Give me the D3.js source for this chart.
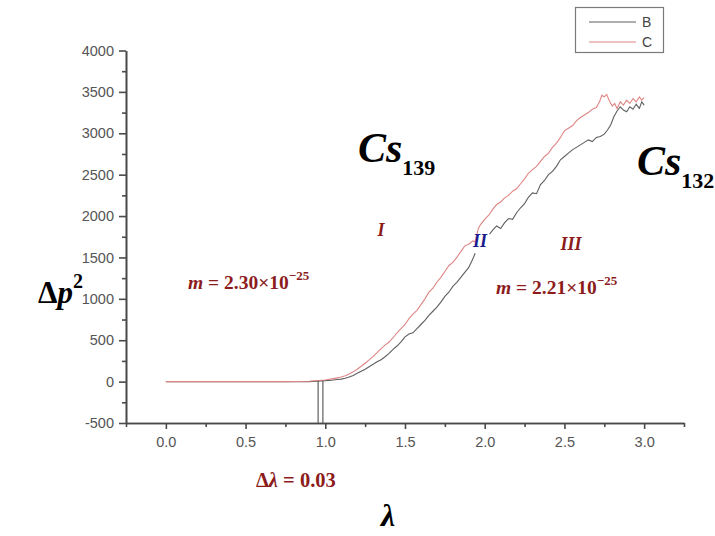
<!DOCTYPE html>
<html>
<head>
<meta charset="utf-8">
<script src="https://cdn.jsdelivr.net/npm/d3@7/dist/d3.min.js"></script>
<style>
  html, body { margin: 0; padding: 0; background: #fff; }
  svg { display: block; }
</style>
</head>
<body>
<svg id="chart" width="715" height="536"></svg>
<script>
// λ sample positions and Δp² values for the two runs
const lambdaB = [0, 0.25, 0.5, 0.75, 0.9, 1.0, 1.025, 1.05, 1.075, 1.1, 1.125, 1.15, 1.175, 1.2, 1.225, 1.25, 1.275, 1.3, 1.325, 1.35, 1.375, 1.4, 1.425, 1.45, 1.475, 1.5, 1.525, 1.55, 1.575, 1.6, 1.625, 1.65, 1.675, 1.7, 1.725, 1.75, 1.775, 1.8, 1.825, 1.85, 1.875, 1.9, 1.925, 1.94, 1.99, 2.03, 2.05, 2.075, 2.1, 2.125, 2.15, 2.175, 2.2, 2.225, 2.25, 2.275, 2.3, 2.325, 2.35, 2.375, 2.4, 2.425, 2.45, 2.475, 2.5, 2.525, 2.55, 2.575, 2.6, 2.625, 2.65, 2.675, 2.7, 2.725, 2.75, 2.77, 2.79, 2.81, 2.83, 2.85, 2.87, 2.89, 2.91, 2.93, 2.95, 2.97, 2.985, 3.0];
const seriesB = [0, 0, 0, 0, 0, 12, 15, 20, 25, 30, 40, 55, 75, 100, 125, 150, 180, 210, 240, 265, 300, 340, 390, 430, 480, 540, 575, 590, 640, 690, 740, 800, 850, 900, 960, 1030, 1080, 1150, 1200, 1260, 1320, 1380, 1480, 1550, null, 1780, 1830, 1880, 1850, 1920, 1970, 1960, 2040, 2100, 2150, 2230, 2280, 2270, 2380, 2430, 2500, 2540, 2600, 2680, 2720, 2760, 2800, 2830, 2860, 2890, 2920, 2900, 2950, 2960, 2990, 3040, 3100, 3200, 3270, 3320, 3280, 3260, 3320, 3290, 3350, 3300, 3380, 3340];

const lambdaC = [0, 0.25, 0.5, 0.75, 0.9, 1.0, 1.025, 1.05, 1.075, 1.1, 1.125, 1.15, 1.175, 1.2, 1.225, 1.25, 1.275, 1.3, 1.325, 1.35, 1.375, 1.4, 1.425, 1.45, 1.475, 1.5, 1.525, 1.55, 1.575, 1.6, 1.625, 1.65, 1.675, 1.7, 1.725, 1.75, 1.775, 1.8, 1.825, 1.85, 1.875, 1.9, 1.925, 1.94, 1.96, 1.975, 2.0, 2.025, 2.05, 2.075, 2.1, 2.125, 2.15, 2.175, 2.2, 2.225, 2.25, 2.275, 2.3, 2.325, 2.35, 2.375, 2.4, 2.425, 2.45, 2.475, 2.5, 2.525, 2.55, 2.575, 2.6, 2.625, 2.65, 2.675, 2.7, 2.72, 2.735, 2.75, 2.765, 2.78, 2.8, 2.815, 2.83, 2.85, 2.87, 2.89, 2.91, 2.93, 2.95, 2.97, 2.985, 3.0];
const seriesC = [0, 0, 0, 0, 5, 20, 28, 36, 45, 55, 70, 92, 118, 150, 185, 222, 262, 305, 350, 398, 440, 478, 530, 590, 640, 690, 760, 815, 860, 930, 1000, 1080, 1130, 1200, 1260, 1330, 1400, 1440, 1500, 1570, 1640, 1660, 1700, 1690, 1850, 1900, 1960, 2010, 2080, 2140, 2170, 2220, 2250, 2300, 2330, 2390, 2450, 2520, 2560, 2600, 2660, 2720, 2760, 2830, 2880, 2950, 3030, 3060, 3090, 3150, 3190, 3220, 3250, 3290, 3310, 3380, 3460, 3440, 3470, 3400, 3330, 3360, 3300, 3380, 3340, 3400, 3360, 3420, 3380, 3440, 3400, 3430];

// threshold markers (Δλ = 0.03 apart)
const thresholdLambda = [0.955, 0.985];

const xTicks = [0, 0.5, 1.0, 1.5, 2.0, 2.5, 3.0];
const xMinorTicks = [-0.25, 0.25, 0.75, 1.25, 1.75, 2.25, 2.75, 3.25];
const yTicks = [-500, 0, 500, 1000, 1500, 2000, 2500, 3000, 3500, 4000];
const yMinorTicks = [-250, 250, 750, 1250, 1750, 2250, 2750, 3250, 3750];
const legendNames = ["B", "C"];
const colors = { B: "#5f5f5f", C: "#e08585" };

const svg = d3.select("#chart");
const x = d3.scaleLinear().domain([-0.25, 3.25]).range([126, 684]);
const y = d3.scaleLinear().domain([-500, 4000]).range([423, 50.5]);

const axisColor = "#4a4a4a";
const tickFont = "'Liberation Sans', Arial, sans-serif";

// x axis
const gx = svg.append("g").attr("transform", `translate(0,${y(-500)})`);
gx.call(d3.axisBottom(x).tickValues(xTicks).tickFormat(d3.format(".1f")).tickSize(6).tickSizeOuter(0));
gx.append("g").call(d3.axisBottom(x).tickValues(xMinorTicks).tickFormat("").tickSize(4).tickSizeOuter(0));
gx.selectAll("path.domain").attr("stroke", axisColor).attr("stroke-width", 1.6);
gx.selectAll(".tick line").attr("stroke", axisColor).attr("stroke-width", 1.6);
gx.selectAll(".tick text").attr("fill", "#555").attr("font-family", tickFont).attr("font-size", 14.5).attr("dy", "1.05em");

// y axis (plain hyphen for negative labels)
const gy = svg.append("g").attr("transform", `translate(${x(-0.25)},0)`);
gy.call(d3.axisLeft(y).tickValues(yTicks).tickFormat(d => String(d)).tickSize(7).tickPadding(5).tickSizeOuter(0));
gy.append("g").call(d3.axisLeft(y).tickValues(yMinorTicks).tickFormat("").tickSize(4).tickSizeOuter(0));
gy.selectAll("path.domain").attr("stroke", axisColor).attr("stroke-width", 1.6);
gy.selectAll(".tick line").attr("stroke", axisColor).attr("stroke-width", 1.6);
gy.selectAll(".tick text").attr("fill", "#555").attr("font-family", tickFont).attr("font-size", 14.5);

// data lines
const line = d3.line()
  .defined(d => d[1] !== null)
  .x(d => x(d[0]))
  .y(d => y(d[1]));

const dataB = lambdaB.map((l, i) => [l, seriesB[i]]);
const dataC = lambdaC.map((l, i) => [l, seriesC[i]]);

svg.append("path").datum(dataB).attr("d", line)
  .attr("fill", "none").attr("stroke", colors.B).attr("stroke-width", 1.1);
svg.append("path").datum(dataC).attr("d", line)
  .attr("fill", "none").attr("stroke", colors.C).attr("stroke-width", 1.1);

// threshold drop lines
svg.selectAll("line.thr").data(thresholdLambda).enter().append("line")
  .attr("class", "thr")
  .attr("x1", d => x(d)).attr("x2", d => x(d))
  .attr("y1", y(10)).attr("y2", y(-500))
  .attr("stroke", colors.B).attr("stroke-width", 1.2);

// legend
const lg = svg.append("g");
lg.append("rect").attr("x", 575.5).attr("y", 7.5).attr("width", 88).attr("height", 45)
  .attr("fill", "#fff").attr("stroke", "#7a7a7a").attr("stroke-width", 1.2);
legendNames.forEach((n, i) => {
  const ly = 22 + i * 20;
  lg.append("line").attr("x1", 589).attr("x2", 636).attr("y1", ly).attr("y2", ly)
    .attr("stroke", colors[n]).attr("stroke-width", 1.2);
  lg.append("text").attr("x", 642).attr("y", ly + 5).text(n)
    .attr("font-family", tickFont).attr("font-size", 14).attr("fill", "#444");
});

// axis titles
const serif = "'Liberation Serif', 'Times New Roman', serif";
const yt = svg.append("text").attr("x", 38).attr("y", 303)
  .attr("font-family", serif).attr("font-weight", "bold").attr("font-size", 31).attr("fill", "#000");
yt.append("tspan").text("Δ");
yt.append("tspan").attr("font-style", "italic").text("p");
yt.append("tspan").attr("font-size", 20).attr("dy", -15).text("2");

svg.append("text").attr("x", 388).attr("y", 526).attr("text-anchor", "middle")
  .attr("font-family", serif).attr("font-weight", "bold").attr("font-style", "italic")
  .attr("font-size", 32).attr("fill", "#000").text("λ");

// isotope labels
function isotope(px, py, sub) {
  const t = svg.append("text").attr("x", px).attr("y", py)
    .attr("font-family", serif).attr("font-weight", "bold").attr("fill", "#000");
  t.append("tspan").attr("font-style", "italic").attr("font-size", 42).text("Cs");
  t.append("tspan").attr("font-size", 22).attr("dy", 13).text(sub);
}
isotope(358, 162, "139");
isotope(637, 175, "132");

// region labels
const darkRed = "#8c1c1c";
function regionLabel(px, py, txt, col) {
  svg.append("text").attr("x", px).attr("y", py).attr("text-anchor", "middle")
    .attr("font-family", serif).attr("font-weight", "bold").attr("font-style", "italic")
    .attr("font-size", 18).attr("fill", col).text(txt);
}
regionLabel(381, 236, "I", darkRed);
regionLabel(480, 247, "II", "#1c1c8c");
regionLabel(571, 250, "III", darkRed);

// mass annotations
function massLabel(px, py, val) {
  const t = svg.append("text").attr("x", px).attr("y", py)
    .attr("font-family", serif).attr("font-weight", "bold").attr("font-size", 19.5).attr("fill", darkRed);
  t.append("tspan").attr("font-style", "italic").text("m");
  t.append("tspan").text(" = " + val + "×10");
  t.append("tspan").attr("font-size", 13).attr("dy", -9).text("−25");
}
massLabel(188, 289, "2.30");
massLabel(496, 294, "2.21");

// threshold width annotation
const dl = svg.append("text").attr("x", 256).attr("y", 487)
  .attr("font-family", serif).attr("font-weight", "bold").attr("font-size", 20.5).attr("fill", darkRed);
dl.append("tspan").text("Δ");
dl.append("tspan").attr("font-style", "italic").text("λ");
dl.append("tspan").text(" = 0.03");
</script>
</body>
</html>
